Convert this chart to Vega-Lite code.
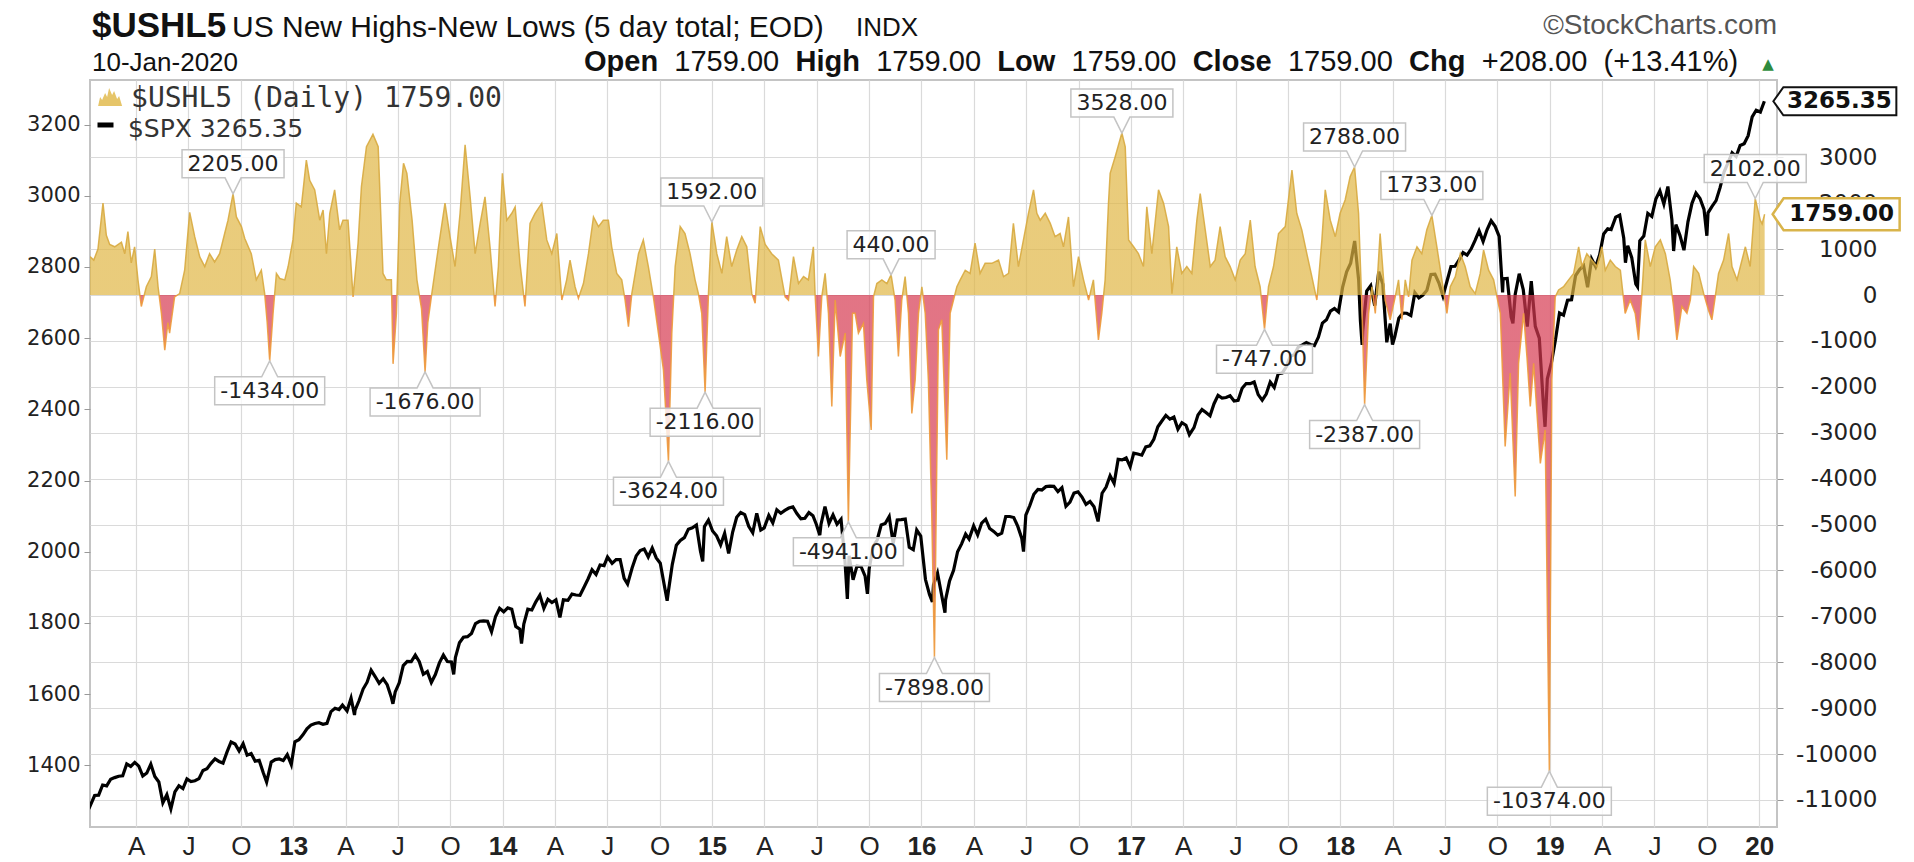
{
"$schema": "https://vega.github.io/schema/vega-lite/v6.json",
"width": 1687, "height": 747,
"autosize": {"type": "none"},
"padding": {"left": 90, "top": 80, "right": 137, "bottom": 35},
"background": "white",
"config": {"view": {"stroke": "#c4c4c4", "strokeWidth": 2}},
"datasets": {
"spx": [
{"date":"2012-01-12","close":1295.5},{"date":"2012-01-13","close":1289.1},{"date":"2012-01-20","close":1315.4},{"date":"2012-01-27","close":1316.3},{"date":"2012-02-03","close":1344.9},{"date":"2012-02-10","close":1342.6},{"date":"2012-02-17","close":1361.2},{"date":"2012-02-24","close":1365.7},{"date":"2012-03-02","close":1369.6},{"date":"2012-03-09","close":1370.9},{"date":"2012-03-16","close":1404.2},{"date":"2012-03-23","close":1397.1},{"date":"2012-03-30","close":1408.5},{"date":"2012-04-06","close":1398.1},{"date":"2012-04-13","close":1370.3},{"date":"2012-04-20","close":1378.5},{"date":"2012-04-27","close":1403.4},{"date":"2012-05-04","close":1369.1},{"date":"2012-05-11","close":1353.4},{"date":"2012-05-18","close":1295.2},{"date":"2012-05-25","close":1317.8},{"date":"2012-06-01","close":1278.0},{"date":"2012-06-08","close":1325.7},{"date":"2012-06-15","close":1342.8},{"date":"2012-06-22","close":1335.0},{"date":"2012-06-29","close":1362.2},{"date":"2012-07-06","close":1354.7},{"date":"2012-07-13","close":1356.8},{"date":"2012-07-20","close":1362.7},{"date":"2012-07-27","close":1385.9},{"date":"2012-08-03","close":1390.9},{"date":"2012-08-10","close":1405.9},{"date":"2012-08-17","close":1418.2},{"date":"2012-08-24","close":1411.1},{"date":"2012-08-31","close":1406.6},{"date":"2012-09-07","close":1437.9},{"date":"2012-09-14","close":1465.8},{"date":"2012-09-21","close":1460.2},{"date":"2012-09-28","close":1440.7},{"date":"2012-10-05","close":1460.9},{"date":"2012-10-12","close":1428.6},{"date":"2012-10-19","close":1433.2},{"date":"2012-10-26","close":1411.9},{"date":"2012-11-02","close":1414.2},{"date":"2012-11-09","close":1379.9},{"date":"2012-11-15","close":1353.3},{"date":"2012-11-23","close":1409.2},{"date":"2012-11-30","close":1416.2},{"date":"2012-12-07","close":1418.1},{"date":"2012-12-14","close":1413.6},{"date":"2012-12-21","close":1430.2},{"date":"2012-12-28","close":1402.4},
{"date":"2013-01-04","close":1466.5},{"date":"2013-01-11","close":1472.1},{"date":"2013-01-18","close":1485.9},{"date":"2013-01-25","close":1502.9},{"date":"2013-02-01","close":1513.2},{"date":"2013-02-08","close":1517.9},{"date":"2013-02-15","close":1519.8},{"date":"2013-02-22","close":1515.6},{"date":"2013-03-01","close":1518.2},{"date":"2013-03-08","close":1551.2},{"date":"2013-03-15","close":1560.7},{"date":"2013-03-22","close":1556.9},{"date":"2013-03-28","close":1569.2},{"date":"2013-04-05","close":1553.3},{"date":"2013-04-12","close":1588.9},{"date":"2013-04-18","close":1541.6},{"date":"2013-04-19","close":1555.3},{"date":"2013-04-26","close":1582.2},{"date":"2013-05-03","close":1614.4},{"date":"2013-05-10","close":1633.7},{"date":"2013-05-17","close":1667.5},{"date":"2013-05-24","close":1649.6},{"date":"2013-05-31","close":1630.7},{"date":"2013-06-07","close":1643.4},{"date":"2013-06-14","close":1626.7},{"date":"2013-06-21","close":1592.4},{"date":"2013-06-24","close":1573.1},{"date":"2013-06-28","close":1606.3},{"date":"2013-07-05","close":1631.9},{"date":"2013-07-12","close":1680.2},{"date":"2013-07-19","close":1692.1},{"date":"2013-07-26","close":1691.7},{"date":"2013-08-02","close":1709.7},{"date":"2013-08-09","close":1691.4},{"date":"2013-08-16","close":1655.8},{"date":"2013-08-23","close":1663.5},{"date":"2013-08-30","close":1633.0},{"date":"2013-09-06","close":1655.2},{"date":"2013-09-13","close":1687.9},{"date":"2013-09-20","close":1709.9},{"date":"2013-09-27","close":1691.8},{"date":"2013-10-04","close":1690.5},{"date":"2013-10-08","close":1655.5},{"date":"2013-10-11","close":1703.2},{"date":"2013-10-18","close":1744.5},{"date":"2013-10-25","close":1759.8},{"date":"2013-11-01","close":1761.6},{"date":"2013-11-08","close":1770.6},{"date":"2013-11-15","close":1798.2},{"date":"2013-11-22","close":1804.8},{"date":"2013-11-29","close":1805.8},{"date":"2013-12-06","close":1805.1},{"date":"2013-12-13","close":1775.3},{"date":"2013-12-20","close":1818.3},{"date":"2013-12-27","close":1841.4},
{"date":"2014-01-03","close":1831.4},{"date":"2014-01-10","close":1842.4},{"date":"2014-01-17","close":1838.7},{"date":"2014-01-24","close":1790.3},{"date":"2014-01-31","close":1782.6},{"date":"2014-02-03","close":1741.9},{"date":"2014-02-07","close":1797.0},{"date":"2014-02-14","close":1838.6},{"date":"2014-02-21","close":1836.3},{"date":"2014-02-28","close":1859.5},{"date":"2014-03-07","close":1878.0},{"date":"2014-03-14","close":1841.1},{"date":"2014-03-21","close":1866.5},{"date":"2014-03-28","close":1857.6},{"date":"2014-04-04","close":1865.1},{"date":"2014-04-11","close":1815.7},{"date":"2014-04-17","close":1864.9},{"date":"2014-04-25","close":1863.4},{"date":"2014-05-02","close":1881.1},{"date":"2014-05-09","close":1878.5},{"date":"2014-05-16","close":1877.9},{"date":"2014-05-23","close":1900.5},{"date":"2014-05-30","close":1923.6},{"date":"2014-06-06","close":1949.4},{"date":"2014-06-13","close":1936.2},{"date":"2014-06-20","close":1962.9},{"date":"2014-06-27","close":1960.9},{"date":"2014-07-03","close":1985.4},{"date":"2014-07-11","close":1967.6},{"date":"2014-07-18","close":1978.2},{"date":"2014-07-25","close":1978.3},{"date":"2014-08-01","close":1925.2},{"date":"2014-08-07","close":1909.6},{"date":"2014-08-15","close":1955.1},{"date":"2014-08-22","close":1988.4},{"date":"2014-08-29","close":2003.4},{"date":"2014-09-05","close":2007.7},{"date":"2014-09-12","close":1985.5},{"date":"2014-09-19","close":2010.4},{"date":"2014-09-26","close":1982.9},{"date":"2014-10-03","close":1967.9},{"date":"2014-10-10","close":1906.1},{"date":"2014-10-15","close":1862.5},{"date":"2014-10-17","close":1886.8},{"date":"2014-10-24","close":1964.6},{"date":"2014-10-31","close":2018.1},{"date":"2014-11-07","close":2031.9},{"date":"2014-11-14","close":2039.8},{"date":"2014-11-21","close":2063.5},{"date":"2014-11-28","close":2067.6},{"date":"2014-12-05","close":2075.4},{"date":"2014-12-12","close":2002.3},{"date":"2014-12-16","close":1972.7},{"date":"2014-12-19","close":2070.7},{"date":"2014-12-26","close":2088.8},
{"date":"2015-01-02","close":2058.2},{"date":"2015-01-09","close":2044.8},{"date":"2015-01-16","close":2019.4},{"date":"2015-01-23","close":2051.8},{"date":"2015-01-30","close":1995.0},{"date":"2015-02-06","close":2055.5},{"date":"2015-02-13","close":2097.0},{"date":"2015-02-20","close":2110.3},{"date":"2015-02-27","close":2104.5},{"date":"2015-03-06","close":2071.3},{"date":"2015-03-13","close":2053.4},{"date":"2015-03-20","close":2108.1},{"date":"2015-03-27","close":2061.0},{"date":"2015-04-02","close":2067.0},{"date":"2015-04-10","close":2102.1},{"date":"2015-04-17","close":2081.2},{"date":"2015-04-24","close":2117.7},{"date":"2015-05-01","close":2108.3},{"date":"2015-05-08","close":2116.1},{"date":"2015-05-15","close":2122.7},{"date":"2015-05-22","close":2126.1},{"date":"2015-05-29","close":2107.4},{"date":"2015-06-05","close":2092.8},{"date":"2015-06-12","close":2094.1},{"date":"2015-06-19","close":2110.0},{"date":"2015-06-26","close":2101.5},{"date":"2015-07-02","close":2076.8},{"date":"2015-07-08","close":2046.7},{"date":"2015-07-10","close":2076.6},{"date":"2015-07-17","close":2126.6},{"date":"2015-07-24","close":2079.7},{"date":"2015-07-31","close":2103.8},{"date":"2015-08-07","close":2077.6},{"date":"2015-08-14","close":2091.5},{"date":"2015-08-21","close":1970.9},{"date":"2015-08-25","close":1867.6},{"date":"2015-08-28","close":1988.9},{"date":"2015-09-04","close":1921.2},{"date":"2015-09-11","close":1961.1},{"date":"2015-09-18","close":1958.0},{"date":"2015-09-25","close":1931.3},{"date":"2015-09-29","close":1881.8},{"date":"2015-10-02","close":1951.4},{"date":"2015-10-09","close":2014.9},{"date":"2015-10-16","close":2033.1},{"date":"2015-10-23","close":2075.2},{"date":"2015-10-30","close":2079.4},{"date":"2015-11-06","close":2099.2},{"date":"2015-11-13","close":2023.0},{"date":"2015-11-20","close":2089.2},{"date":"2015-11-27","close":2090.1},{"date":"2015-12-04","close":2091.7},{"date":"2015-12-11","close":2012.4},{"date":"2015-12-18","close":2005.6},{"date":"2015-12-24","close":2061.0},{"date":"2015-12-31","close":2043.9},
{"date":"2016-01-08","close":1922.0},{"date":"2016-01-15","close":1880.3},{"date":"2016-01-20","close":1859.3},{"date":"2016-01-22","close":1906.9},{"date":"2016-01-29","close":1940.2},{"date":"2016-02-05","close":1880.1},{"date":"2016-02-11","close":1829.1},{"date":"2016-02-12","close":1864.8},{"date":"2016-02-19","close":1917.8},{"date":"2016-02-26","close":1948.1},{"date":"2016-03-04","close":2000.0},{"date":"2016-03-11","close":2022.2},{"date":"2016-03-18","close":2049.6},{"date":"2016-03-24","close":2035.9},{"date":"2016-04-01","close":2072.8},{"date":"2016-04-08","close":2047.6},{"date":"2016-04-15","close":2080.7},{"date":"2016-04-22","close":2091.6},{"date":"2016-04-29","close":2065.3},{"date":"2016-05-06","close":2057.1},{"date":"2016-05-13","close":2046.6},{"date":"2016-05-20","close":2052.3},{"date":"2016-05-27","close":2099.1},{"date":"2016-06-03","close":2099.1},{"date":"2016-06-10","close":2096.1},{"date":"2016-06-17","close":2071.2},{"date":"2016-06-24","close":2037.4},{"date":"2016-06-27","close":2000.5},{"date":"2016-07-01","close":2103.0},{"date":"2016-07-08","close":2129.9},{"date":"2016-07-15","close":2161.7},{"date":"2016-07-22","close":2175.0},{"date":"2016-07-29","close":2173.6},{"date":"2016-08-05","close":2182.9},{"date":"2016-08-12","close":2184.1},{"date":"2016-08-19","close":2183.9},{"date":"2016-08-26","close":2169.0},{"date":"2016-09-02","close":2180.0},{"date":"2016-09-09","close":2127.8},{"date":"2016-09-16","close":2139.2},{"date":"2016-09-23","close":2164.7},{"date":"2016-09-30","close":2168.3},{"date":"2016-10-07","close":2153.7},{"date":"2016-10-14","close":2133.0},{"date":"2016-10-21","close":2141.2},{"date":"2016-10-28","close":2126.4},{"date":"2016-11-04","close":2085.2},{"date":"2016-11-11","close":2164.5},{"date":"2016-11-18","close":2181.9},{"date":"2016-11-25","close":2213.4},{"date":"2016-12-02","close":2192.0},{"date":"2016-12-09","close":2259.5},{"date":"2016-12-16","close":2258.1},{"date":"2016-12-23","close":2263.8},{"date":"2016-12-30","close":2238.8},
{"date":"2017-01-06","close":2277.0},{"date":"2017-01-13","close":2274.6},{"date":"2017-01-20","close":2271.3},{"date":"2017-01-27","close":2294.7},{"date":"2017-02-03","close":2297.4},{"date":"2017-02-10","close":2316.1},{"date":"2017-02-17","close":2351.2},{"date":"2017-02-24","close":2367.3},{"date":"2017-03-03","close":2383.1},{"date":"2017-03-10","close":2372.6},{"date":"2017-03-17","close":2378.3},{"date":"2017-03-24","close":2344.0},{"date":"2017-03-31","close":2362.7},{"date":"2017-04-07","close":2355.5},{"date":"2017-04-13","close":2329.0},{"date":"2017-04-21","close":2348.7},{"date":"2017-04-28","close":2384.2},{"date":"2017-05-05","close":2399.3},{"date":"2017-05-12","close":2390.9},{"date":"2017-05-19","close":2381.7},{"date":"2017-05-26","close":2415.8},{"date":"2017-06-02","close":2439.1},{"date":"2017-06-09","close":2431.8},{"date":"2017-06-16","close":2433.2},{"date":"2017-06-23","close":2438.3},{"date":"2017-06-30","close":2423.4},{"date":"2017-07-07","close":2425.2},{"date":"2017-07-14","close":2459.3},{"date":"2017-07-21","close":2472.5},{"date":"2017-07-28","close":2472.1},{"date":"2017-08-04","close":2476.8},{"date":"2017-08-11","close":2441.3},{"date":"2017-08-18","close":2425.6},{"date":"2017-08-25","close":2443.1},{"date":"2017-09-01","close":2476.6},{"date":"2017-09-08","close":2461.4},{"date":"2017-09-15","close":2500.2},{"date":"2017-09-22","close":2502.2},{"date":"2017-09-29","close":2519.4},{"date":"2017-10-06","close":2549.3},{"date":"2017-10-13","close":2553.2},{"date":"2017-10-20","close":2575.2},{"date":"2017-10-27","close":2581.1},{"date":"2017-11-03","close":2587.8},{"date":"2017-11-10","close":2582.3},{"date":"2017-11-17","close":2578.9},{"date":"2017-11-24","close":2602.4},{"date":"2017-12-01","close":2642.2},{"date":"2017-12-08","close":2651.5},{"date":"2017-12-15","close":2675.8},{"date":"2017-12-22","close":2683.3},{"date":"2017-12-29","close":2673.6},
{"date":"2018-01-05","close":2743.2},{"date":"2018-01-12","close":2786.2},{"date":"2018-01-19","close":2810.3},{"date":"2018-01-26","close":2872.9},{"date":"2018-02-02","close":2762.1},{"date":"2018-02-05","close":2648.9},{"date":"2018-02-08","close":2581.0},{"date":"2018-02-09","close":2619.6},{"date":"2018-02-16","close":2732.2},{"date":"2018-02-23","close":2747.3},{"date":"2018-03-02","close":2691.3},{"date":"2018-03-09","close":2786.6},{"date":"2018-03-16","close":2752.0},{"date":"2018-03-23","close":2588.3},{"date":"2018-03-29","close":2640.9},{"date":"2018-04-02","close":2581.9},{"date":"2018-04-06","close":2604.5},{"date":"2018-04-13","close":2656.3},{"date":"2018-04-20","close":2670.1},{"date":"2018-04-27","close":2669.9},{"date":"2018-05-04","close":2663.4},{"date":"2018-05-11","close":2727.7},{"date":"2018-05-18","close":2713.0},{"date":"2018-05-25","close":2721.3},{"date":"2018-06-01","close":2734.6},{"date":"2018-06-08","close":2779.0},{"date":"2018-06-15","close":2779.7},{"date":"2018-06-22","close":2754.9},{"date":"2018-06-29","close":2718.4},{"date":"2018-07-06","close":2759.8},{"date":"2018-07-13","close":2801.3},{"date":"2018-07-20","close":2801.8},{"date":"2018-07-27","close":2818.8},{"date":"2018-08-03","close":2840.4},{"date":"2018-08-10","close":2833.3},{"date":"2018-08-17","close":2850.1},{"date":"2018-08-24","close":2874.7},{"date":"2018-08-31","close":2901.5},{"date":"2018-09-07","close":2871.7},{"date":"2018-09-14","close":2905.0},{"date":"2018-09-21","close":2929.7},{"date":"2018-09-28","close":2914.0},{"date":"2018-10-05","close":2885.6},{"date":"2018-10-11","close":2728.4},{"date":"2018-10-12","close":2767.1},{"date":"2018-10-19","close":2767.8},{"date":"2018-10-26","close":2658.7},{"date":"2018-10-29","close":2641.3},{"date":"2018-11-02","close":2723.1},{"date":"2018-11-09","close":2781.0},{"date":"2018-11-16","close":2736.3},{"date":"2018-11-23","close":2632.6},{"date":"2018-11-30","close":2760.2},{"date":"2018-12-07","close":2633.1},{"date":"2018-12-14","close":2600.0},{"date":"2018-12-21","close":2416.6},{"date":"2018-12-24","close":2351.1},{"date":"2018-12-28","close":2485.7},
{"date":"2019-01-04","close":2531.9},{"date":"2019-01-11","close":2596.3},{"date":"2019-01-18","close":2670.7},{"date":"2019-01-25","close":2664.8},{"date":"2019-02-01","close":2706.5},{"date":"2019-02-08","close":2707.9},{"date":"2019-02-15","close":2775.6},{"date":"2019-02-22","close":2792.7},{"date":"2019-03-01","close":2803.7},{"date":"2019-03-08","close":2743.1},{"date":"2019-03-15","close":2822.5},{"date":"2019-03-22","close":2800.7},{"date":"2019-03-29","close":2834.4},{"date":"2019-04-05","close":2892.7},{"date":"2019-04-12","close":2907.4},{"date":"2019-04-18","close":2905.0},{"date":"2019-04-26","close":2939.9},{"date":"2019-05-03","close":2945.6},{"date":"2019-05-10","close":2881.4},{"date":"2019-05-13","close":2811.9},{"date":"2019-05-17","close":2859.5},{"date":"2019-05-24","close":2826.1},{"date":"2019-05-31","close":2752.1},{"date":"2019-06-03","close":2744.5},{"date":"2019-06-07","close":2873.3},{"date":"2019-06-14","close":2887.0},{"date":"2019-06-21","close":2950.5},{"date":"2019-06-28","close":2941.8},{"date":"2019-07-05","close":2990.4},{"date":"2019-07-12","close":3013.8},{"date":"2019-07-19","close":2976.6},{"date":"2019-07-26","close":3025.9},{"date":"2019-08-02","close":2932.1},{"date":"2019-08-05","close":2844.7},{"date":"2019-08-09","close":2918.7},{"date":"2019-08-16","close":2888.7},{"date":"2019-08-23","close":2847.1},{"date":"2019-08-30","close":2926.5},{"date":"2019-09-06","close":2978.7},{"date":"2019-09-13","close":3007.4},{"date":"2019-09-20","close":2992.1},{"date":"2019-09-27","close":2961.8},{"date":"2019-10-02","close":2887.6},{"date":"2019-10-04","close":2952.0},{"date":"2019-10-11","close":2970.3},{"date":"2019-10-18","close":2986.2},{"date":"2019-10-25","close":3022.6},{"date":"2019-11-01","close":3066.9},{"date":"2019-11-08","close":3093.1},{"date":"2019-11-15","close":3120.5},{"date":"2019-11-22","close":3110.3},{"date":"2019-11-29","close":3141.0},{"date":"2019-12-06","close":3145.9},{"date":"2019-12-13","close":3168.8},{"date":"2019-12-20","close":3221.2},{"date":"2019-12-27","close":3240.0},{"date":"2020-01-03","close":3234.9},{"date":"2020-01-10","close":3265.35}
],
"hl": [
{"t":2012.030,"v":835},{"t":2012.048,"v":760},{"t":2012.068,"v":1000},{"t":2012.092,"v":2000},{"t":2012.108,"v":1300},{"t":2012.124,"v":1100},{"t":2012.148,"v":1050},{"t":2012.180,"v":1150},{"t":2012.196,"v":900},{"t":2012.211,"v":1380},{"t":2012.227,"v":700},{"t":2012.243,"v":1050},{"t":2012.259,"v":330},{"t":2012.275,"v":-250},{"t":2012.299,"v":180},{"t":2012.323,"v":400},{"t":2012.339,"v":1000},{"t":2012.355,"v":180},{"t":2012.371,"v":-400},{"t":2012.387,"v":-1200},{"t":2012.402,"v":-600},{"t":2012.410,"v":-830},{"t":2012.434,"v":-40},{"t":2012.458,"v":30},{"t":2012.482,"v":540},{"t":2012.506,"v":1800},{"t":2012.530,"v":1270},{"t":2012.554,"v":830},{"t":2012.578,"v":620},{"t":2012.601,"v":900},{"t":2012.625,"v":720},{"t":2012.649,"v":900},{"t":2012.673,"v":1340},{"t":2012.689,"v":1630},{"t":2012.713,"v":2205},{"t":2012.729,"v":1700},{"t":2012.753,"v":1490},{"t":2012.769,"v":1230},{"t":2012.800,"v":900},{"t":2012.824,"v":330},{"t":2012.848,"v":540},{"t":2012.864,"v":30},{"t":2012.876,"v":-600},{"t":2012.888,"v":-1434},{"t":2012.904,"v":-400},{"t":2012.920,"v":470},{"t":2012.936,"v":360},{"t":2012.960,"v":330},{"t":2012.976,"v":620},{"t":2012.999,"v":1200},
{"t":2013.015,"v":2000},{"t":2013.039,"v":1920},{"t":2013.063,"v":2940},{"t":2013.079,"v":2500},{"t":2013.103,"v":2290},{"t":2013.127,"v":1630},{"t":2013.143,"v":1850},{"t":2013.159,"v":900},{"t":2013.175,"v":1780},{"t":2013.198,"v":2290},{"t":2013.222,"v":1420},{"t":2013.238,"v":1630},{"t":2013.262,"v":1630},{"t":2013.286,"v":-40},{"t":2013.310,"v":1130},{"t":2013.326,"v":2360},{"t":2013.350,"v":3230},{"t":2013.381,"v":3500},{"t":2013.406,"v":3230},{"t":2013.429,"v":470},{"t":2013.445,"v":330},{"t":2013.469,"v":330},{"t":2013.477,"v":-1500},{"t":2013.493,"v":-400},{"t":2013.509,"v":2000},{"t":2013.527,"v":2870},{"t":2013.543,"v":2650},{"t":2013.568,"v":1630},{"t":2013.591,"v":330},{"t":2013.613,"v":-300},{"t":2013.630,"v":-1676},{"t":2013.643,"v":-600},{"t":2013.662,"v":30},{"t":2013.694,"v":1050},{"t":2013.725,"v":2000},{"t":2013.749,"v":1270},{"t":2013.773,"v":620},{"t":2013.797,"v":1780},{"t":2013.821,"v":3270},{"t":2013.845,"v":2140},{"t":2013.869,"v":900},{"t":2013.893,"v":1560},{"t":2013.916,"v":2140},{"t":2013.940,"v":1050},{"t":2013.964,"v":-250},{"t":2013.980,"v":620},{"t":2013.999,"v":2650},
{"t":2014.020,"v":1630},{"t":2014.044,"v":1780},{"t":2014.060,"v":1920},{"t":2014.083,"v":690},{"t":2014.107,"v":-250},{"t":2014.131,"v":1560},{"t":2014.155,"v":1780},{"t":2014.187,"v":2000},{"t":2014.211,"v":1200},{"t":2014.235,"v":900},{"t":2014.259,"v":1340},{"t":2014.283,"v":-110},{"t":2014.306,"v":330},{"t":2014.322,"v":760},{"t":2014.346,"v":180},{"t":2014.362,"v":-70},{"t":2014.386,"v":250},{"t":2014.410,"v":900},{"t":2014.434,"v":1700},{"t":2014.458,"v":1490},{"t":2014.481,"v":1630},{"t":2014.505,"v":1630},{"t":2014.521,"v":1050},{"t":2014.545,"v":470},{"t":2014.569,"v":330},{"t":2014.585,"v":-110},{"t":2014.601,"v":-690},{"t":2014.617,"v":30},{"t":2014.649,"v":900},{"t":2014.672,"v":1200},{"t":2014.696,"v":620},{"t":2014.720,"v":-40},{"t":2014.744,"v":-830},{"t":2014.768,"v":-1630},{"t":2014.792,"v":-3624},{"t":2014.808,"v":-830},{"t":2014.824,"v":620},{"t":2014.848,"v":1490},{"t":2014.871,"v":1340},{"t":2014.895,"v":900},{"t":2014.919,"v":330},{"t":2014.935,"v":30},{"t":2014.951,"v":-400},{"t":2014.967,"v":-2116},{"t":2014.983,"v":30},{"t":2014.999,"v":1592},
{"t":2015.023,"v":900},{"t":2015.047,"v":470},{"t":2015.070,"v":1270},{"t":2015.094,"v":620},{"t":2015.118,"v":980},{"t":2015.142,"v":1270},{"t":2015.166,"v":1050},{"t":2015.190,"v":30},{"t":2015.206,"v":-180},{"t":2015.230,"v":1490},{"t":2015.254,"v":1100},{"t":2015.285,"v":900},{"t":2015.317,"v":760},{"t":2015.349,"v":-40},{"t":2015.365,"v":-110},{"t":2015.389,"v":835},{"t":2015.413,"v":250},{"t":2015.437,"v":400},{"t":2015.460,"v":330},{"t":2015.484,"v":1050},{"t":2015.492,"v":30},{"t":2015.508,"v":-1340},{"t":2015.524,"v":-40},{"t":2015.540,"v":470},{"t":2015.556,"v":-400},{"t":2015.572,"v":-2430},{"t":2015.588,"v":-110},{"t":2015.612,"v":-1340},{"t":2015.636,"v":-830},{"t":2015.651,"v":-4941},{"t":2015.671,"v":-400},{"t":2015.683,"v":-400},{"t":2015.699,"v":-830},{"t":2015.723,"v":-620},{"t":2015.739,"v":-1850},{"t":2015.760,"v":-2940},{"t":2015.771,"v":-40},{"t":2015.787,"v":250},{"t":2015.811,"v":330},{"t":2015.835,"v":250},{"t":2015.855,"v":440},{"t":2015.874,"v":-110},{"t":2015.890,"v":-1340},{"t":2015.906,"v":-110},{"t":2015.922,"v":400},{"t":2015.938,"v":-400},{"t":2015.954,"v":-2580},{"t":2015.970,"v":-1850},{"t":2015.986,"v":-400},
{"t":2016.002,"v":180},{"t":2016.018,"v":-400},{"t":2016.033,"v":-1850},{"t":2016.049,"v":-4760},{"t":2016.062,"v":-7898},{"t":2016.081,"v":-760},{"t":2016.097,"v":-540},{"t":2016.121,"v":-3590},{"t":2016.137,"v":-400},{"t":2016.153,"v":-110},{"t":2016.169,"v":180},{"t":2016.185,"v":330},{"t":2016.209,"v":540},{"t":2016.232,"v":470},{"t":2016.256,"v":1130},{"t":2016.280,"v":470},{"t":2016.304,"v":690},{"t":2016.336,"v":690},{"t":2016.368,"v":760},{"t":2016.392,"v":400},{"t":2016.416,"v":470},{"t":2016.439,"v":1560},{"t":2016.463,"v":620},{"t":2016.487,"v":1200},{"t":2016.511,"v":1780},{"t":2016.535,"v":2290},{"t":2016.551,"v":1780},{"t":2016.567,"v":1630},{"t":2016.591,"v":1780},{"t":2016.615,"v":1560},{"t":2016.638,"v":1270},{"t":2016.662,"v":1340},{"t":2016.678,"v":1050},{"t":2016.702,"v":1700},{"t":2016.726,"v":180},{"t":2016.750,"v":835},{"t":2016.774,"v":330},{"t":2016.798,"v":-110},{"t":2016.821,"v":330},{"t":2016.845,"v":-980},{"t":2016.861,"v":-400},{"t":2016.877,"v":330},{"t":2016.893,"v":2000},{"t":2016.901,"v":2650},{"t":2016.925,"v":3010},{"t":2016.957,"v":3528},{"t":2016.973,"v":3230},{"t":2016.989,"v":1200},
{"t":2017.013,"v":1050},{"t":2017.036,"v":900},{"t":2017.060,"v":620},{"t":2017.076,"v":1920},{"t":2017.100,"v":900},{"t":2017.132,"v":2290},{"t":2017.156,"v":2000},{"t":2017.180,"v":1490},{"t":2017.196,"v":30},{"t":2017.219,"v":1050},{"t":2017.243,"v":470},{"t":2017.267,"v":620},{"t":2017.291,"v":470},{"t":2017.315,"v":1630},{"t":2017.331,"v":2210},{"t":2017.355,"v":1420},{"t":2017.379,"v":620},{"t":2017.402,"v":760},{"t":2017.426,"v":1490},{"t":2017.450,"v":835},{"t":2017.474,"v":620},{"t":2017.498,"v":330},{"t":2017.522,"v":760},{"t":2017.546,"v":900},{"t":2017.570,"v":1630},{"t":2017.593,"v":620},{"t":2017.617,"v":180},{"t":2017.638,"v":-747},{"t":2017.657,"v":180},{"t":2017.681,"v":620},{"t":2017.705,"v":1340},{"t":2017.737,"v":1490},{"t":2017.769,"v":2720},{"t":2017.792,"v":1780},{"t":2017.816,"v":1420},{"t":2017.840,"v":900},{"t":2017.864,"v":400},{"t":2017.888,"v":-110},{"t":2017.912,"v":1200},{"t":2017.928,"v":2290},{"t":2017.952,"v":1630},{"t":2017.976,"v":1270},{"t":2017.999,"v":1780},
{"t":2018.023,"v":2070},{"t":2018.047,"v":2580},{"t":2018.068,"v":2788},{"t":2018.087,"v":1780},{"t":2018.103,"v":-250},{"t":2018.116,"v":-2387},{"t":2018.135,"v":-400},{"t":2018.151,"v":180},{"t":2018.167,"v":-400},{"t":2018.190,"v":1340},{"t":2018.214,"v":-110},{"t":2018.238,"v":-540},{"t":2018.262,"v":-40},{"t":2018.278,"v":330},{"t":2018.294,"v":-540},{"t":2018.310,"v":330},{"t":2018.326,"v":-40},{"t":2018.342,"v":760},{"t":2018.366,"v":1050},{"t":2018.389,"v":900},{"t":2018.413,"v":1420},{"t":2018.437,"v":1733},{"t":2018.461,"v":1050},{"t":2018.485,"v":330},{"t":2018.509,"v":-400},{"t":2018.525,"v":180},{"t":2018.549,"v":400},{"t":2018.573,"v":900},{"t":2018.596,"v":620},{"t":2018.620,"v":180},{"t":2018.644,"v":30},{"t":2018.668,"v":470},{"t":2018.684,"v":980},{"t":2018.708,"v":540},{"t":2018.732,"v":330},{"t":2018.748,"v":-40},{"t":2018.764,"v":-400},{"t":2018.787,"v":-3300},{"t":2018.811,"v":-1700},{"t":2018.835,"v":-4390},{"t":2018.851,"v":-1490},{"t":2018.875,"v":-400},{"t":2018.891,"v":-1340},{"t":2018.907,"v":-2430},{"t":2018.923,"v":-1490},{"t":2018.939,"v":-2580},{"t":2018.955,"v":-3670},{"t":2018.978,"v":-2940},{"t":2018.998,"v":-10374},
{"t":2019.010,"v":-1850},{"t":2019.026,"v":-40},{"t":2019.042,"v":110},{"t":2019.066,"v":180},{"t":2019.090,"v":330},{"t":2019.114,"v":470},{"t":2019.138,"v":1050},{"t":2019.154,"v":620},{"t":2019.177,"v":900},{"t":2019.201,"v":760},{"t":2019.225,"v":620},{"t":2019.249,"v":1050},{"t":2019.265,"v":540},{"t":2019.289,"v":760},{"t":2019.313,"v":620},{"t":2019.337,"v":540},{"t":2019.360,"v":-400},{"t":2019.384,"v":-110},{"t":2019.408,"v":-400},{"t":2019.424,"v":-980},{"t":2019.440,"v":30},{"t":2019.456,"v":1200},{"t":2019.480,"v":620},{"t":2019.504,"v":1050},{"t":2019.528,"v":1200},{"t":2019.552,"v":900},{"t":2019.575,"v":330},{"t":2019.591,"v":-250},{"t":2019.607,"v":-980},{"t":2019.631,"v":-250},{"t":2019.655,"v":-400},{"t":2019.671,"v":-110},{"t":2019.687,"v":620},{"t":2019.711,"v":470},{"t":2019.735,"v":30},{"t":2019.758,"v":-330},{"t":2019.774,"v":-540},{"t":2019.790,"v":-40},{"t":2019.806,"v":470},{"t":2019.830,"v":760},{"t":2019.854,"v":1340},{"t":2019.870,"v":620},{"t":2019.894,"v":330},{"t":2019.910,"v":620},{"t":2019.934,"v":1050},{"t":2019.957,"v":620},{"t":2019.981,"v":2102},{"t":2020.005,"v":1630},{"t":2020.014,"v":1551},{"t":2020.026,"v":1759}
],
"ann": [
{"t":2012.713,"v":2205},{"t":2014.999,"v":1592},{"t":2015.855,"v":440},{"t":2016.957,"v":3528},{"t":2018.068,"v":2788},{"t":2018.437,"v":1733},{"t":2019.981,"v":2102},
{"t":2012.888,"v":-1434},{"t":2013.630,"v":-1676},{"t":2014.792,"v":-3624},{"t":2014.967,"v":-2116},{"t":2015.651,"v":-4941},{"t":2016.062,"v":-7898},{"t":2017.638,"v":-747},{"t":2018.116,"v":-2387},{"t":2018.998,"v":-10374}
]
},
"layer": [
{
"data": {"name": "spx"},
"transform": [{"calculate": "utcyear(toDate(datum.date)) + (time(toDate(datum.date)) - utc(utcyear(toDate(datum.date)), 0, 1)) / 31557600000", "as": "t"}],
"encoding": {
"x": {"field": "t", "type": "quantitative", "title": null,
"scale": {"domain": [2012.03, 2020.085], "nice": false, "zero": false},
"axis": {"values": [2012.25,2012.5,2012.75,2013,2013.25,2013.5,2013.75,2014,2014.25,2014.5,2014.75,2015,2015.25,2015.5,2015.75,2016,2016.25,2016.5,2016.75,2017,2017.25,2017.5,2017.75,2018,2018.25,2018.5,2018.75,2019,2019.25,2019.5,2019.75,2020],
"labelExpr": "datum.value % 1 == 0 ? substring(toString(datum.value), 2, 4) : (datum.value % 1 == 0.25 ? 'A' : (datum.value % 1 == 0.5 ? 'J' : 'O'))",
"labelFontWeight": {"condition": {"test": "datum.value % 1 == 0", "value": "bold"}, "value": "normal"},
"grid": true, "gridColor": "#dadada", "gridWidth": 1.2, "ticks": false, "domain": false,
"labelFont": "Liberation Sans, Arial, sans-serif", "labelFontSize": 26, "labelColor": "#222", "labelPadding": 6, "labelFlush": false, "labelOverlap": false, "title": null}},
"y": {"field": "close", "type": "quantitative", "title": null,
"scale": {"domain": [1227, 3325], "nice": false, "zero": false},
"axis": {"orient": "left", "values": [1400,1600,1800,2000,2200,2400,2600,2800,3000,3200], "grid": false, "tickSize": 6, "tickColor": "#999", "domain": false,
"labelFont": "DejaVu Sans, sans-serif", "labelFontSize": 21, "labelColor": "#222", "labelPadding": 4, "labelExpr": "toString(datum.value)", "title": null}}
},
"layer": [
{"mark": {"type": "line", "color": "#000", "strokeWidth": 3.2, "clip": true}},
{"transform": [{"filter": "datum.date == '2020-01-10'"}],
"mark": {"type": "point", "shape": "M9,0 L19,-14 L132,-14 L132,14 L19,14 Z", "size": 4, "filled": true, "fill": "white", "stroke": "#111", "strokeWidth": 2, "opacity": 1}},
{"transform": [{"filter": "datum.date == '2020-01-10'"}],
"mark": {"type": "text", "dx": 75, "align": "center", "baseline": "middle", "font": "DejaVu Sans, sans-serif", "fontWeight": "bold", "fontSize": 23, "color": "#111"},
"encoding": {"text": {"field": "close", "type": "quantitative", "format": ".2f"}}}
]
},
{
"layer": [
{"data": {"name": "hl"},
"mark": {"type": "area", "clip": true, "fillOpacity": 0.7,
"fill": {"gradient": "linear", "x1": 0, "y1": 0, "x2": 0, "y2": 1, "stops": [{"offset": 0, "color": "#E0B644"}, {"offset": 0.2537, "color": "#E0B644"}, {"offset": 0.2538, "color": "#D63A51"}, {"offset": 1, "color": "#D63A51"}]}},
"encoding": {
"x": {"field": "t", "type": "quantitative", "title": null, "scale": {"domain": [2012.03, 2020.085], "nice": false, "zero": false}},
"y": {"field": "v", "type": "quantitative", "title": null,
"scale": {"domain": [-11590, 4684], "nice": false, "zero": false},
"axis": {"orient": "right", "values": [-11000,-10000,-9000,-8000,-7000,-6000,-5000,-4000,-3000,-2000,-1000,0,1000,2000,3000], "grid": true, "gridColor": "#dadada", "gridWidth": 1.2, "tickSize": 6, "tickColor": "#999", "domain": false,
"labelFont": "DejaVu Sans, sans-serif", "labelFontSize": 23, "labelColor": "#222", "labelAlign": "right", "labelPadding": 94, "labelExpr": "toString(datum.value)", "title": null}},
"y2": {"datum": 0}
}},
{"data": {"name": "hl"},
"mark": {"type": "line", "clip": true, "strokeWidth": 1.5, "opacity": 0.9,
"stroke": {"gradient": "linear", "x1": 0, "y1": 0, "x2": 0, "y2": 1, "stops": [{"offset": 0, "color": "#D8AA40"}, {"offset": 0.2537, "color": "#D8AA40"}, {"offset": 0.2538, "color": "#EE9A3A"}, {"offset": 1, "color": "#EE9A3A"}]}},
"encoding": {"x": {"field": "t", "type": "quantitative", "title": null}, "y": {"field": "v", "type": "quantitative", "title": null}}},
{"data": {"name": "ann"},
"transform": [{"calculate": "replace(format(datum.v, '.2f'), '\u2212', '-')", "as": "lab"}, {"calculate": "(datum.v >= 0 ? 'p' : 'n') + length(datum.lab)", "as": "kind"}],
"mark": {"type": "point", "size": 4, "filled": true, "fill": "white", "fillOpacity": 0.8, "stroke": "#c4c4c4", "strokeWidth": 1.5, "opacity": 1},
"encoding": {"x": {"field": "t", "type": "quantitative", "title": null}, "y": {"field": "v", "type": "quantitative", "title": null},
"shape": {"field": "kind", "type": "nominal", "legend": null, "scale": {"domain": ["p6","p7","n7","n8","n9"], "range": [
"M0,0 L-8,-16 L-44,-16 L-44,-44 L44,-44 L44,-16 L8,-16 Z",
"M0,0 L-8,-16 L-51,-16 L-51,-44 L51,-44 L51,-16 L8,-16 Z",
"M0,0 L-8,16 L-48,16 L-48,44 L48,44 L48,16 L8,16 Z",
"M0,0 L-8,16 L-55,16 L-55,44 L55,44 L55,16 L8,16 Z",
"M0,0 L-8,16 L-62,16 L-62,44 L62,44 L62,16 L8,16 Z"]}}}},
{"data": {"name": "ann"},
"transform": [{"filter": "datum.v >= 0"}, {"calculate": "replace(format(datum.v, '.2f'), '\u2212', '-')", "as": "lab"}],
"mark": {"type": "text", "dy": -30, "align": "center", "baseline": "middle", "font": "DejaVu Sans, sans-serif", "fontSize": 22, "color": "#222"},
"encoding": {"x": {"field": "t", "type": "quantitative", "title": null}, "y": {"field": "v", "type": "quantitative", "title": null}, "text": {"field": "lab"}}},
{"data": {"name": "ann"},
"transform": [{"filter": "datum.v < 0"}, {"calculate": "replace(format(datum.v, '.2f'), '\u2212', '-')", "as": "lab"}],
"mark": {"type": "text", "dy": 30, "align": "center", "baseline": "middle", "font": "DejaVu Sans, sans-serif", "fontSize": 22, "color": "#222"},
"encoding": {"x": {"field": "t", "type": "quantitative", "title": null}, "y": {"field": "v", "type": "quantitative", "title": null}, "text": {"field": "lab"}}},
{"data": {"name": "hl"},
"transform": [{"filter": "datum.t >= 2020.026"}],
"mark": {"type": "point", "shape": "M8,0 L19,-16 L135,-16 L135,16 L19,16 Z", "size": 4, "filled": true, "fill": "white", "stroke": "#D9B44A", "strokeWidth": 2.5, "opacity": 1},
"encoding": {"x": {"field": "t", "type": "quantitative", "title": null}, "y": {"field": "v", "type": "quantitative", "title": null}}},
{"data": {"name": "hl"},
"transform": [{"filter": "datum.t >= 2020.026"}],
"mark": {"type": "text", "dx": 77, "align": "center", "baseline": "middle", "font": "DejaVu Sans, sans-serif", "fontWeight": "bold", "fontSize": 23, "color": "#111"},
"encoding": {"x": {"field": "t", "type": "quantitative", "title": null}, "y": {"field": "v", "type": "quantitative", "title": null}, "text": {"field": "v", "type": "quantitative", "format": ".2f"}}},
{"data": {"values": [{}]},
"mark": {"type": "point", "shape": "M-12,9 L-10,0 L-8,3 L-5,-4 L-3,0 L-1,-9 L2,-2 L4,-6 L7,2 L9,-1 L12,9 Z", "size": 4, "filled": true, "fill": "#E0B644", "fillOpacity": 0.8, "opacity": 1},
"encoding": {"x": {"datum": 2012.126, "type": "quantitative"}, "y": {"datum": 4314, "type": "quantitative"}}},
{"data": {"values": [{}]},
"mark": {"type": "point", "shape": "M-8,-2.5 L8,-2.5 L8,2.5 L-8,2.5 Z", "size": 4, "filled": true, "fill": "#000", "opacity": 1},
"encoding": {"x": {"datum": 2012.104, "type": "quantitative"}, "y": {"datum": 3704, "type": "quantitative"}}},
{"data": {"values": [{}]},
"mark": {"type": "text", "text": "$USHL5 (Daily) 1759.00", "align": "left", "baseline": "alphabetic", "font": "DejaVu Sans Mono, monospace", "fontSize": 28, "color": "#333"},
"encoding": {"x": {"datum": 2012.226, "type": "quantitative"}, "y": {"datum": 4096, "type": "quantitative"}}},
{"data": {"values": [{}]},
"mark": {"type": "text", "text": "$SPX 3265.35", "align": "left", "baseline": "alphabetic", "font": "DejaVu Sans, sans-serif", "fontSize": 25, "color": "#333"},
"encoding": {"x": {"datum": 2012.211, "type": "quantitative"}, "y": {"datum": 3442, "type": "quantitative"}}},
{"data": {"values": [{}]},
"mark": {"type": "text", "text": "$USHL5", "align": "left", "baseline": "alphabetic", "font": "Liberation Sans, Arial, sans-serif", "fontWeight": "bold", "fontSize": 35, "color": "#111"},
"encoding": {"x": {"datum": 2012.0396, "type": "quantitative"}, "y": {"datum": 5621, "type": "quantitative"}}},
{"data": {"values": [{}]},
"mark": {"type": "text", "text": "US New Highs-New Lows (5 day total; EOD)", "align": "left", "baseline": "alphabetic", "font": "Liberation Sans, Arial, sans-serif", "fontSize": 30, "color": "#111"},
"encoding": {"x": {"datum": 2012.708, "type": "quantitative"}, "y": {"datum": 5621, "type": "quantitative"}}},
{"data": {"values": [{}]},
"mark": {"type": "text", "text": "INDX", "align": "left", "baseline": "alphabetic", "font": "Liberation Sans, Arial, sans-serif", "fontSize": 26, "color": "#111"},
"encoding": {"x": {"datum": 2015.687, "type": "quantitative"}, "y": {"datum": 5643, "type": "quantitative"}}},
{"data": {"values": [{}]},
"mark": {"type": "text", "text": "©StockCharts.com", "align": "right", "baseline": "alphabetic", "font": "Liberation Sans, Arial, sans-serif", "fontSize": 28, "color": "#555"},
"encoding": {"x": {"datum": 2020.085, "type": "quantitative"}, "y": {"datum": 5686, "type": "quantitative"}}},
{"data": {"values": [{}]},
"mark": {"type": "text", "text": "10-Jan-2020", "align": "left", "baseline": "alphabetic", "font": "Liberation Sans, Arial, sans-serif", "fontSize": 26, "color": "#111"},
"encoding": {"x": {"datum": 2012.0396, "type": "quantitative"}, "y": {"datum": 4880, "type": "quantitative"}}},
{"data": {"values": [{}]},
"mark": {"type": "text", "text": "Open", "align": "left", "baseline": "alphabetic", "font": "Liberation Sans, Arial, sans-serif", "fontWeight": "bold", "fontSize": 29, "color": "#111"},
"encoding": {"x": {"datum": 2014.389, "type": "quantitative"}, "y": {"datum": 4880, "type": "quantitative"}}},
{"data": {"values": [{}]},
"mark": {"type": "text", "text": "1759.00", "align": "left", "baseline": "alphabetic", "font": "Liberation Sans, Arial, sans-serif", "fontSize": 29, "color": "#111"},
"encoding": {"x": {"datum": 2014.820, "type": "quantitative"}, "y": {"datum": 4880, "type": "quantitative"}}},
{"data": {"values": [{}]},
"mark": {"type": "text", "text": "High", "align": "left", "baseline": "alphabetic", "font": "Liberation Sans, Arial, sans-serif", "fontWeight": "bold", "fontSize": 29, "color": "#111"},
"encoding": {"x": {"datum": 2015.399, "type": "quantitative"}, "y": {"datum": 4880, "type": "quantitative"}}},
{"data": {"values": [{}]},
"mark": {"type": "text", "text": "1759.00", "align": "left", "baseline": "alphabetic", "font": "Liberation Sans, Arial, sans-serif", "fontSize": 29, "color": "#111"},
"encoding": {"x": {"datum": 2015.784, "type": "quantitative"}, "y": {"datum": 4880, "type": "quantitative"}}},
{"data": {"values": [{}]},
"mark": {"type": "text", "text": "Low", "align": "left", "baseline": "alphabetic", "font": "Liberation Sans, Arial, sans-serif", "fontWeight": "bold", "fontSize": 29, "color": "#111"},
"encoding": {"x": {"datum": 2016.362, "type": "quantitative"}, "y": {"datum": 4880, "type": "quantitative"}}},
{"data": {"values": [{}]},
"mark": {"type": "text", "text": "1759.00", "align": "left", "baseline": "alphabetic", "font": "Liberation Sans, Arial, sans-serif", "fontSize": 29, "color": "#111"},
"encoding": {"x": {"datum": 2016.717, "type": "quantitative"}, "y": {"datum": 4880, "type": "quantitative"}}},
{"data": {"values": [{}]},
"mark": {"type": "text", "text": "Close", "align": "left", "baseline": "alphabetic", "font": "Liberation Sans, Arial, sans-serif", "fontWeight": "bold", "fontSize": 29, "color": "#111"},
"encoding": {"x": {"datum": 2017.295, "type": "quantitative"}, "y": {"datum": 4880, "type": "quantitative"}}},
{"data": {"values": [{}]},
"mark": {"type": "text", "text": "1759.00", "align": "left", "baseline": "alphabetic", "font": "Liberation Sans, Arial, sans-serif", "fontSize": 29, "color": "#111"},
"encoding": {"x": {"datum": 2017.750, "type": "quantitative"}, "y": {"datum": 4880, "type": "quantitative"}}},
{"data": {"values": [{}]},
"mark": {"type": "text", "text": "Chg", "align": "left", "baseline": "alphabetic", "font": "Liberation Sans, Arial, sans-serif", "fontWeight": "bold", "fontSize": 29, "color": "#111"},
"encoding": {"x": {"datum": 2018.328, "type": "quantitative"}, "y": {"datum": 4880, "type": "quantitative"}}},
{"data": {"values": [{}]},
"mark": {"type": "text", "text": "+208.00", "align": "left", "baseline": "alphabetic", "font": "Liberation Sans, Arial, sans-serif", "fontSize": 29, "color": "#111"},
"encoding": {"x": {"datum": 2018.675, "type": "quantitative"}, "y": {"datum": 4880, "type": "quantitative"}}},
{"data": {"values": [{}]},
"mark": {"type": "text", "text": "(+13.41%)", "align": "left", "baseline": "alphabetic", "font": "Liberation Sans, Arial, sans-serif", "fontSize": 29, "color": "#111"},
"encoding": {"x": {"datum": 2019.257, "type": "quantitative"}, "y": {"datum": 4880, "type": "quantitative"}}},
{"data": {"values": [{}]},
"mark": {"type": "text", "text": "▲", "align": "center", "baseline": "alphabetic", "font": "DejaVu Sans, sans-serif", "fontSize": 15, "color": "#2E8B3E"},
"encoding": {"x": {"datum": 2020.042, "type": "quantitative"}, "y": {"datum": 4930, "type": "quantitative"}}}
]
}
],
"resolve": {"scale": {"y": "independent"}}
}
